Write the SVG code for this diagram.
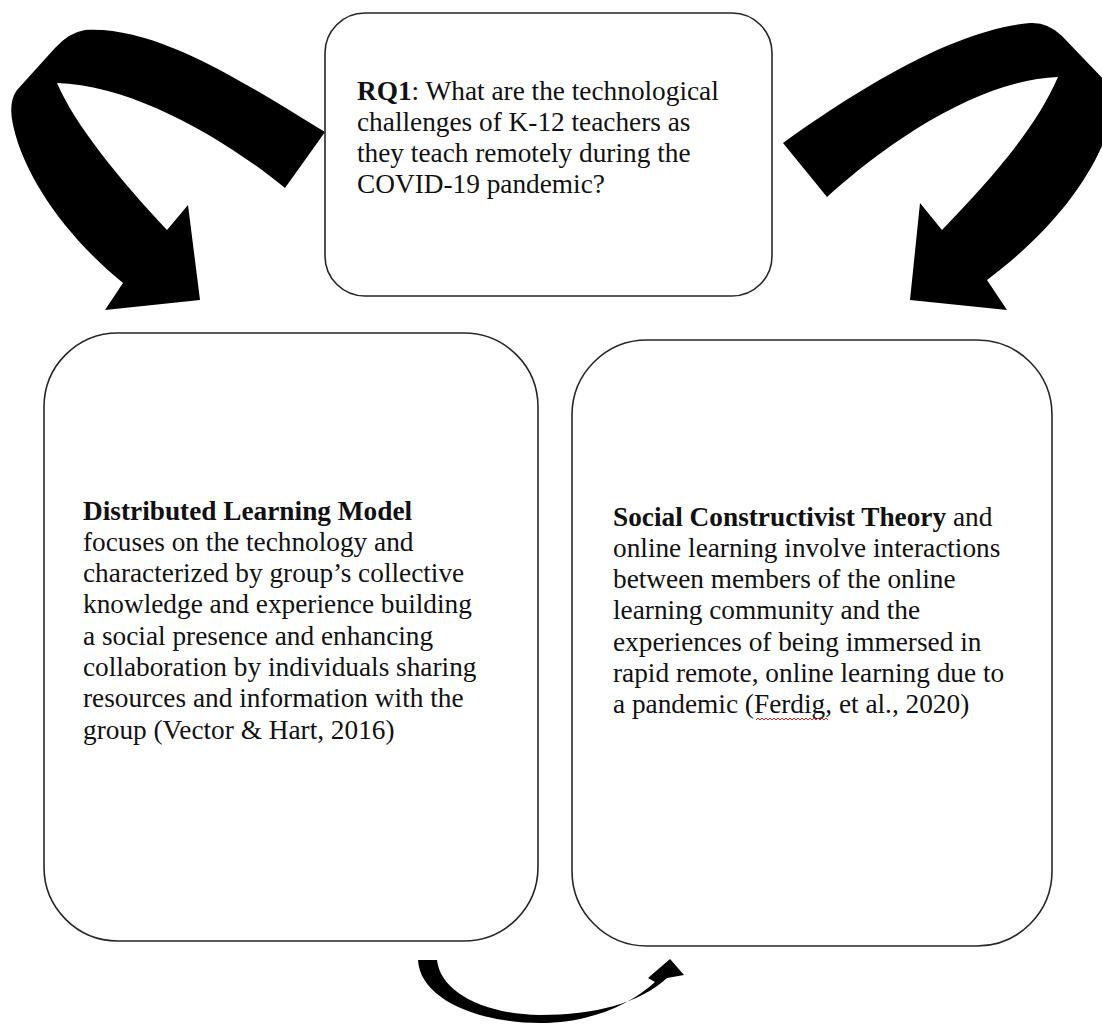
<svg xmlns="http://www.w3.org/2000/svg" width="1102" height="1025" viewBox="0 0 1102 1025">
<style>
.box{fill:#fff;stroke:#262626;stroke-width:1.6}
.arrow{fill:#000;stroke:none}
.t{font-family:"Liberation Serif","Times New Roman",serif;font-size:27.3px;fill:#111}
.b{font-weight:bold}
.spell{fill:none;stroke:#e0201c;stroke-width:1}
</style>
<rect width="1102" height="1025" fill="#fff"/>
<g id="connectors">
<path class="arrow" d="M 325,132 C 255,90 160,25 85,30 Q 70,32 55,48 L 17,90 Q 8,102 13,125 C 25,180 70,240 123,283 L 105,310 L 200,300 L 188,205 L 167,230 C 120,180 75,125 57,83 C 130,85 220,135 285,188 Z"/>
<path class="arrow" d="M 783,143 C 850,95 950,30 1030,23 Q 1048,22 1062,36 L 1110,86 L 1110,146 L 1102,146 C 1080,195 1040,240 987,280 L 1007,310 L 910,300 L 920,203 L 942,230 C 990,180 1035,130 1058,77 C 980,80 890,140 827,197 Z"/>
<path class="arrow" d="M 418,960 C 420,1000 480,1023 540,1023 C 590,1023 630,1005 655,982 L 648,978 L 670,959 L 684,975 L 667,978 C 640,1003 595,1015 540,1015 C 480,1014 440,990 437,960 Z"/>
</g>
<g id="rq1">
<rect class="box" x="325" y="13" width="447" height="283" rx="40" ry="40"/>
<text class="t" x="357" y="99.5"><tspan class="b">RQ1</tspan>: What are the technological</text>
<text class="t" x="357" y="130.8">challenges of K-12 teachers as</text>
<text class="t" x="357" y="162.1">they teach remotely during the</text>
<text class="t" x="357" y="193.4">COVID-19 pandemic?</text>
</g>
<g id="distributed-learning-model">
<rect class="box" x="44" y="333" width="494" height="608" rx="74" ry="74"/>
<text class="t" x="83" y="519.5"><tspan class="b">Distributed Learning Model</tspan></text>
<text class="t" x="83" y="550.8">focuses on the technology and</text>
<text class="t" x="83" y="582.1">characterized by group’s collective</text>
<text class="t" x="83" y="613.4">knowledge and experience building</text>
<text class="t" x="83" y="644.7">a social presence and enhancing</text>
<text class="t" x="83" y="676">collaboration by individuals sharing</text>
<text class="t" x="83" y="707.3">resources and information with the</text>
<text class="t" x="83" y="738.6">group (Vector &amp; Hart, 2016)</text>
</g>
<g id="social-constructivist-theory">
<rect class="box" x="572" y="340" width="480" height="606" rx="75" ry="75"/>
<text class="t" x="613" y="525.5"><tspan class="b">Social Constructivist Theory</tspan> and</text>
<text class="t" x="613" y="556.8">online learning involve interactions</text>
<text class="t" x="613" y="588.1">between members of the online</text>
<text class="t" x="613" y="619.4">learning community and the</text>
<text class="t" x="613" y="650.7">experiences of being immersed in</text>
<text class="t" x="613" y="682">rapid remote, online learning due to</text>
<text class="t" x="613" y="713.3">a pandemic (Ferdig, et al., 2020)</text>
<path class="spell" d="M756,720 l2,-2 l2,2 l2,-2 l2,2 l2,-2 l2,2 l2,-2 l2,2 l2,-2 l2,2 l2,-2 l2,2 l2,-2 l2,2 l2,-2 l2,2 l2,-2 l2,2 l2,-2 l2,2 l2,-2 l2,2 l2,-2 l2,2 l2,-2 l2,2 l2,-2 l2,2 l2,-2 l2,2 l2,-2 l2,2 l2,-2 l2,2 l2,-2 l2,2"/>
</g>
</svg>
